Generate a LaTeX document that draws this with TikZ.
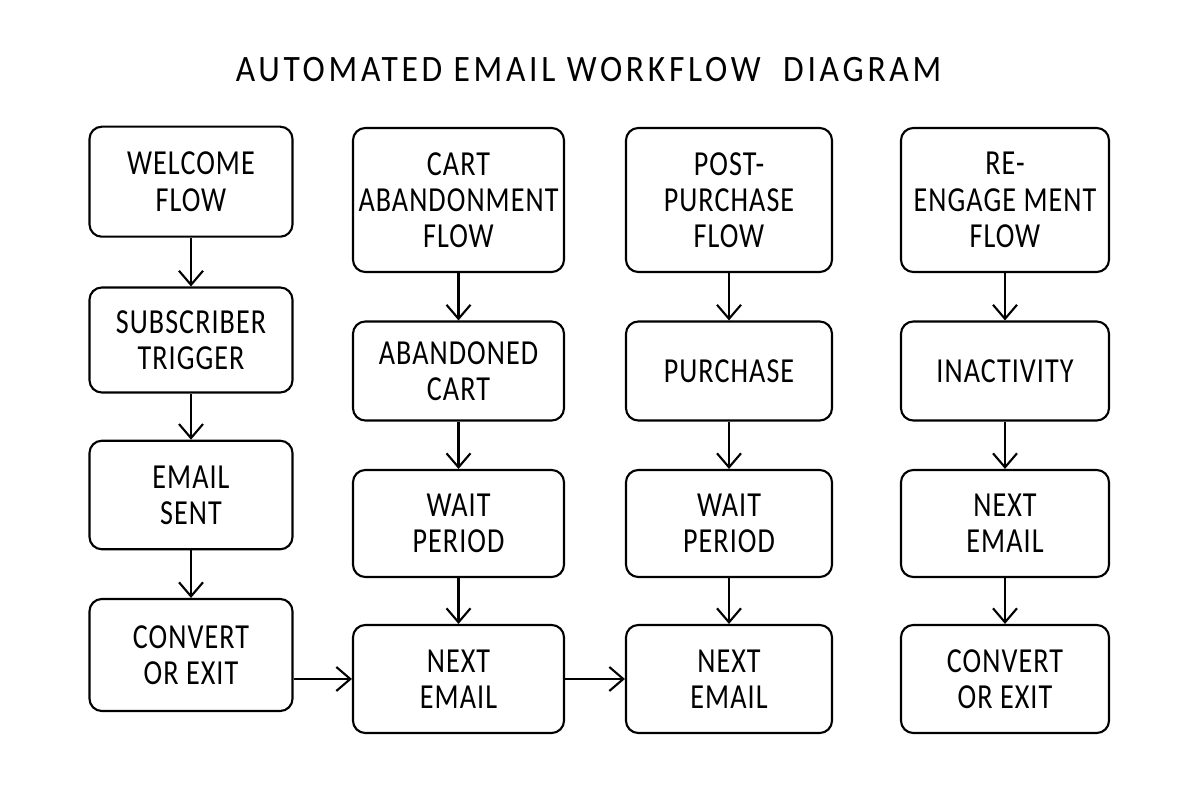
\documentclass[tikz,border=0pt]{standalone}
\usepackage{fontspec}
\setmainfont{Carlito}[FakeStretch=0.8, LetterSpace=3]
\newfontfamily\titlefont{Carlito}[FakeStretch=0.9, LetterSpace=10]
\usetikzlibrary{arrows.meta, positioning}

\begin{document}
\begin{tikzpicture}[
    >={Straight Barb[length=1.4mm, width=2.4mm]},
    box/.style={draw, rounded corners=3.5pt, line width=0.6pt, align=center, inner sep=0pt,
                font=\fontsize{10}{10.3}\selectfont},
    colA/.style={box, minimum width=2.03cm},
    colB/.style={box, minimum width=2.11cm},
    colC/.style={box, minimum width=2.06cm},
    colD/.style={box, minimum width=2.08cm},
    arr/.style={->, line width=0.6pt},
]
\useasboundingbox (0,0) rectangle (12,-8);
% ----- title
\node[font=\titlefont\fontsize{10.6}{12}\selectfont] (title) at (5.885,-0.70) {AUTOMATED EMAIL WORKFLOW\ \ DIAGRAM};
% ----- welcome flow
\node[colA, minimum height=1.10cm] (welcome) at (1.91,-1.817) {WELCOME\\FLOW};
\node[colA, minimum height=1.05cm] (trigger) at (1.91,-3.40) {SUBSCRIBER\\TRIGGER};
\node[colA, minimum height=1.085cm] (sent) at (1.91,-4.95) {EMAIL\\SENT};
\node[colA, minimum height=1.12cm] (exitA) at (1.91,-6.55) {CONVERT\\OR EXIT};
% ----- cart abandonment flow
\node[colB, minimum height=1.44cm] (cart) at (4.585,-2.00) {CART\\ABANDONMENT\\FLOW};
\node[colB, minimum height=0.99cm] (abandoned) at (4.585,-3.71) {ABANDONED\\CART};
\node[colB, minimum height=1.07cm] (waitB) at (4.585,-5.235) {WAIT\\PERIOD};
\node[colB, minimum height=1.08cm] (nextB) at (4.585,-6.79) {NEXT\\EMAIL};
% ----- post-purchase flow
\node[colC, minimum height=1.44cm] (post) at (7.29,-2.00) {POST-\\PURCHASE\\FLOW};
\node[colC, minimum height=0.99cm] (purchase) at (7.29,-3.71) {PURCHASE};
\node[colC, minimum height=1.07cm] (waitC) at (7.29,-5.235) {WAIT\\PERIOD};
\node[colC, minimum height=1.08cm] (nextC) at (7.29,-6.79) {NEXT\\EMAIL};
% ----- re-engagement flow
\node[colD, minimum height=1.44cm] (reengage) at (10.05,-2.00) {RE-\\ENGAGE MENT\\FLOW};
\node[colD, minimum height=0.99cm] (inactive) at (10.05,-3.71) {INACTIVITY};
\node[colD, minimum height=1.07cm] (nextD) at (10.05,-5.235) {NEXT\\EMAIL};
\node[colD, minimum height=1.08cm] (exitD) at (10.05,-6.79) {CONVERT\\OR EXIT};
% ----- arrows down each column, then across the bottom
\foreach \a/\b in {welcome/trigger, trigger/sent, sent/exitA,
                   cart/abandoned, abandoned/waitB, waitB/nextB,
                   post/purchase, purchase/waitC, waitC/nextC,
                   reengage/inactive, inactive/nextD, nextD/exitD}
  \draw[arr] (\a) -- (\b);
\draw[arr] (nextB -| exitA.east) -- (nextB.west);
\draw[arr] (nextB) -- (nextC);
\end{tikzpicture}
\end{document}
